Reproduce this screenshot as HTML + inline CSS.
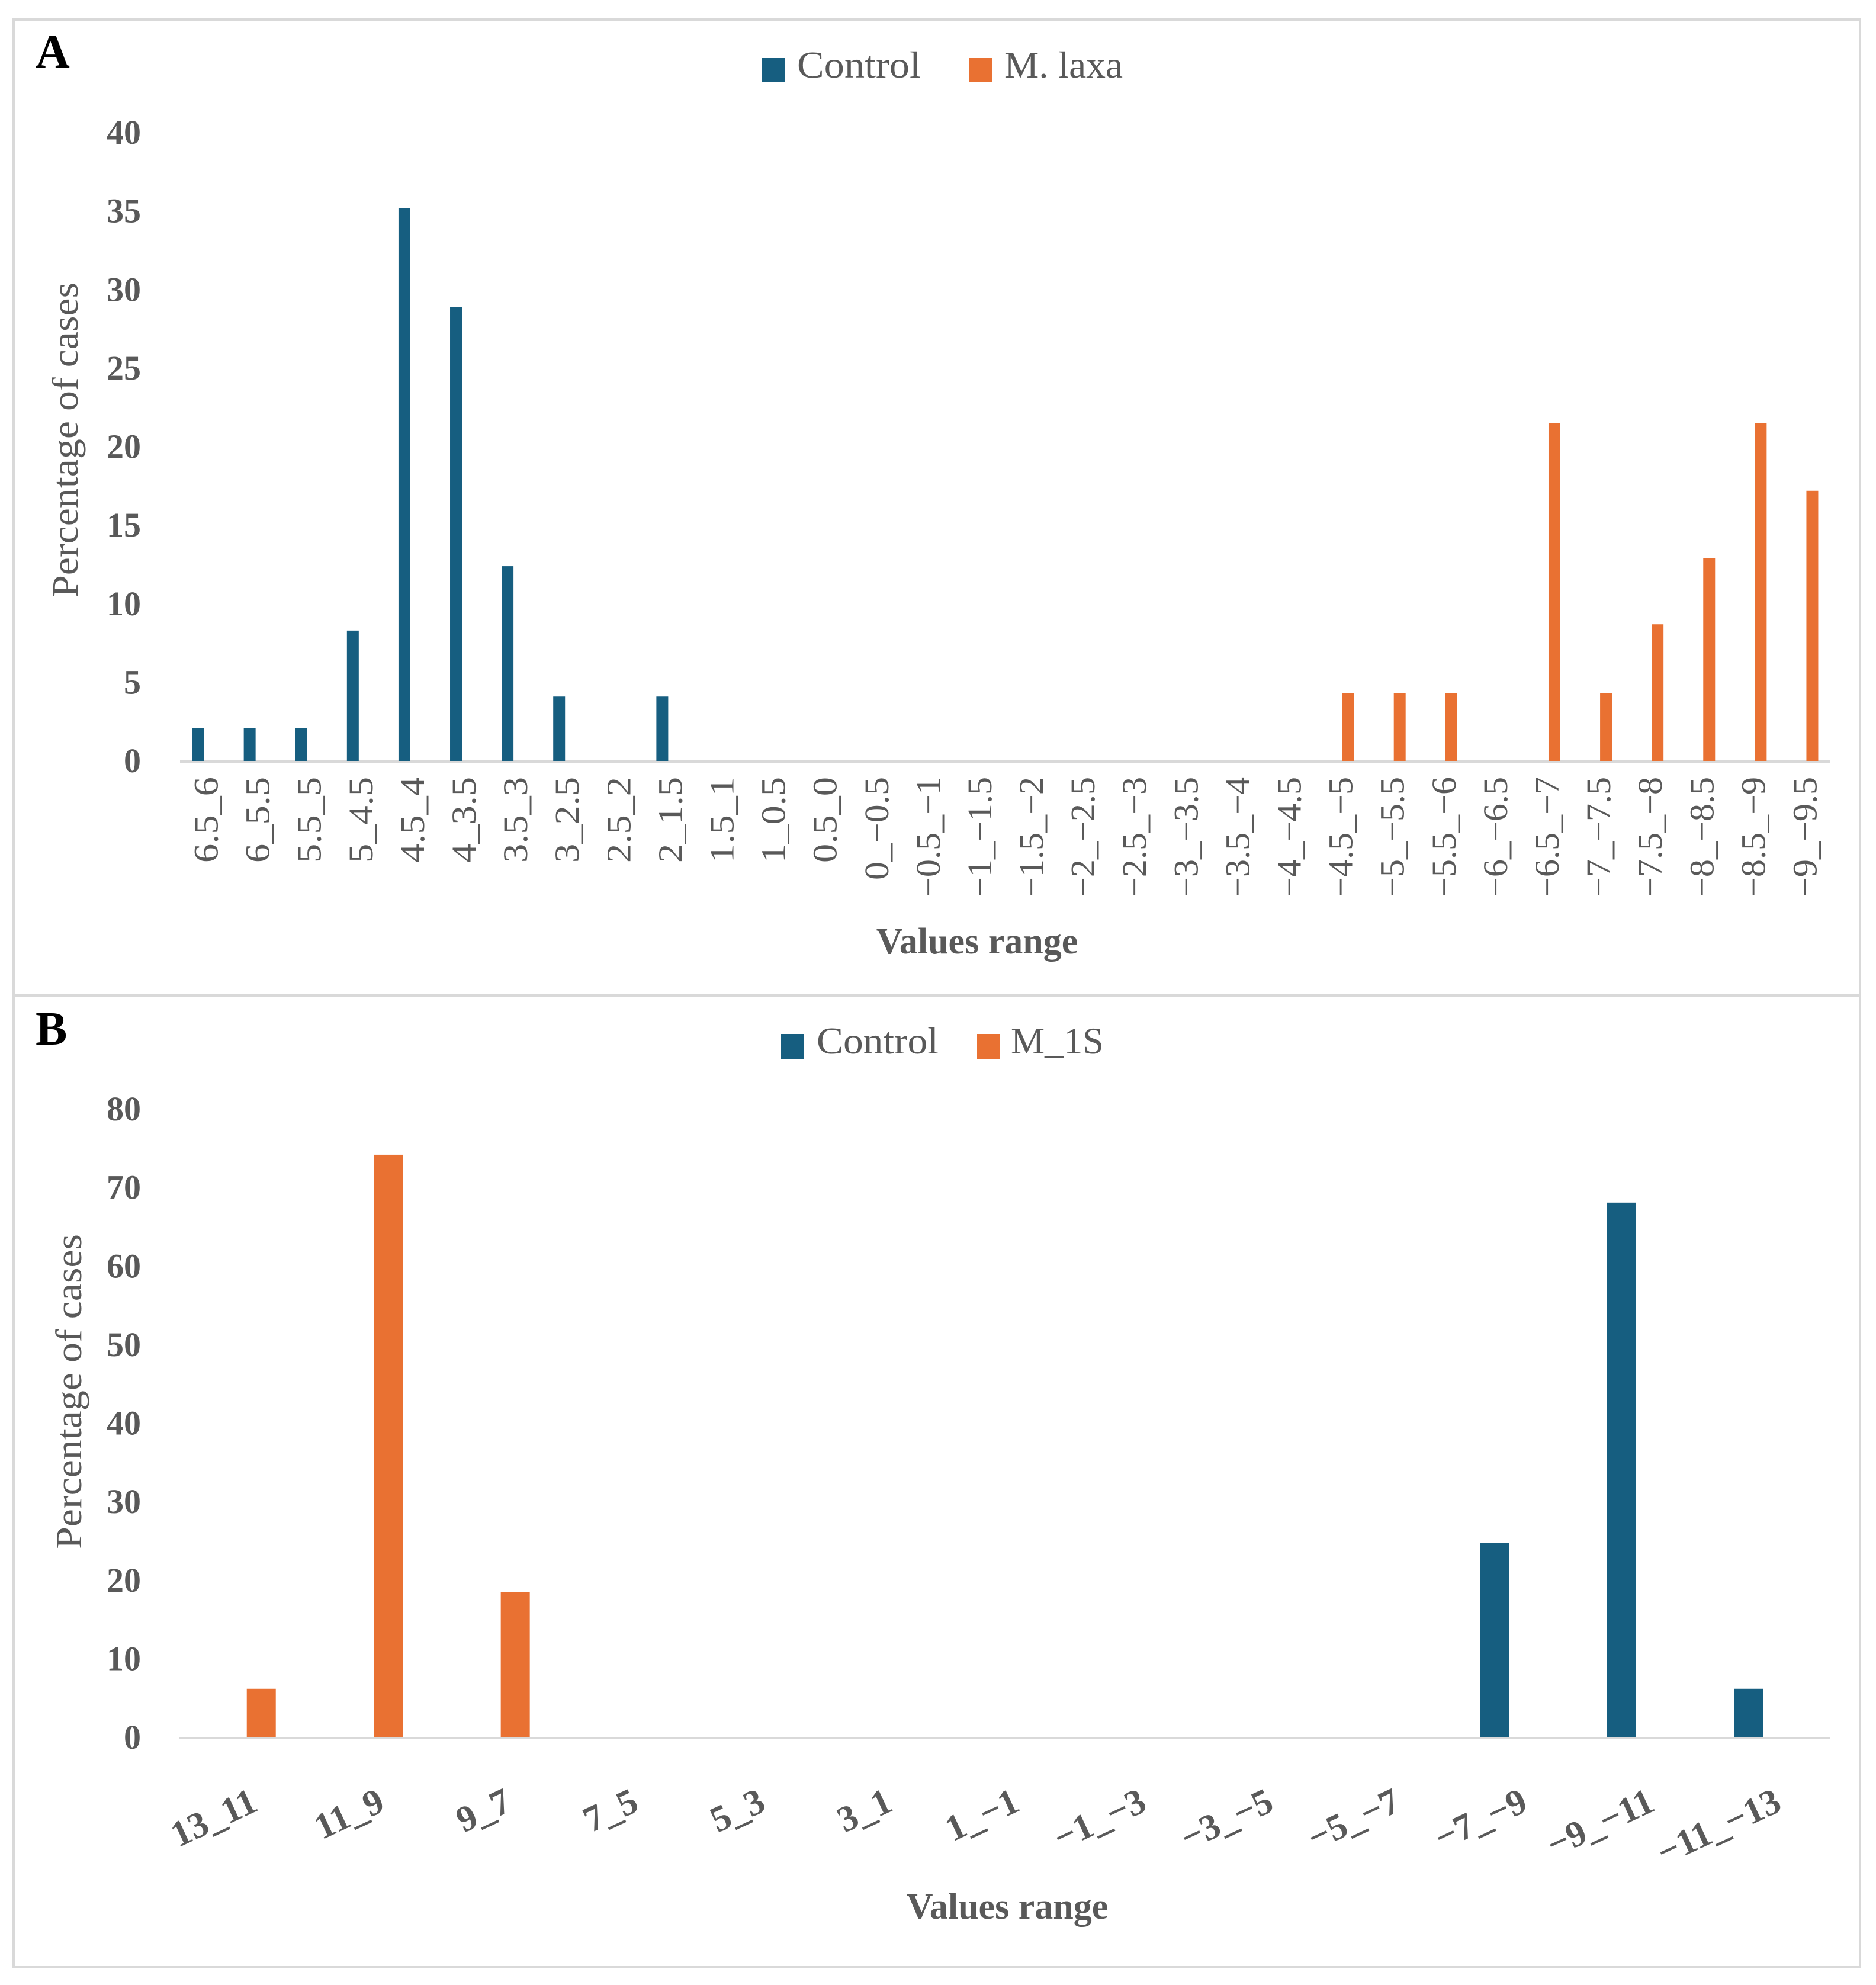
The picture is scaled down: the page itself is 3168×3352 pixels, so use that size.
<!DOCTYPE html>
<html><head><meta charset="utf-8">
<style>
html,body{margin:0;padding:0;background:#fff;}
svg{display:block;}
text{font-family:"Liberation Serif",serif;fill:#595959;}
</style></head>
<body>
<svg id="fig" width="3168" height="3352" viewBox="0 0 3168 3352" xmlns="http://www.w3.org/2000/svg">
<rect x="23" y="33" width="3118" height="1648" fill="none" stroke="#d9d9d9" stroke-width="4"/>
<rect x="23" y="1681" width="3118" height="1641" fill="none" stroke="#d9d9d9" stroke-width="4"/>
<text x="60" y="114" font-size="80" font-weight="bold" style="fill:#000">A</text>
<text x="60" y="1764" font-size="80" font-weight="bold" style="fill:#000">B</text>

<g>
<rect x="1287" y="98" width="39" height="41" fill="#165e80"/>
<text x="1346" y="131" font-size="64" textLength="209" lengthAdjust="spacingAndGlyphs">Control</text>
<rect x="1637" y="98" width="39" height="41" fill="#e97132"/>
<text x="1696" y="131" font-size="64" textLength="200" lengthAdjust="spacingAndGlyphs">M. laxa</text>
</g>
<g>
<rect x="1319" y="1746" width="39" height="43" fill="#165e80"/>
<text x="1379" y="1779" font-size="64" textLength="206" lengthAdjust="spacingAndGlyphs">Control</text>
<rect x="1650" y="1746" width="38" height="43" fill="#e97132"/>
<text x="1707" y="1779" font-size="64" textLength="157" lengthAdjust="spacingAndGlyphs">M_1S</text>
</g>

<text x="1650" y="1610" font-size="62" font-weight="bold" text-anchor="middle">Values range</text>
<text x="1701" y="3240" font-size="62" font-weight="bold" text-anchor="middle">Values range</text>
<text transform="translate(131,743) rotate(-90)" font-size="62" text-anchor="middle" textLength="532" lengthAdjust="spacingAndGlyphs">Percentage of cases</text>
<text transform="translate(137,2350) rotate(-90)" font-size="62" text-anchor="middle" textLength="532" lengthAdjust="spacingAndGlyphs">Percentage of cases</text>
<g id="chartA"></g>
<g id="chartB"></g>
</svg>
<script>
const catsA = ["6.5_6","6_5.5","5.5_5","5_4.5","4.5_4","4_3.5","3.5_3","3_2.5","2.5_2","2_1.5","1.5_1","1_0.5","0.5_0","0_−0.5","−0.5_−1","−1_−1.5","−1.5_−2","−2_−2.5","−2.5_−3","−3_−3.5","−3.5_−4","−4_−4.5","−4.5_−5","−5_−5.5","−5.5_−6","−6_−6.5","−6.5_−7","−7_−7.5","−7.5_−8","−8_−8.5","−8.5_−9","−9_−9.5"];
const controlA = [2.1,2.1,2.1,8.3,35.2,28.9,12.4,4.1,0,4.1,0,0,0,0,0,0,0,0,0,0,0,0,0,0,0,0,0,0,0,0,0,0];
const laxaA = [0,0,0,0,0,0,0,0,0,0,0,0,0,0,0,0,0,0,0,0,0,0,4.3,4.3,4.3,0,21.5,4.3,8.7,12.9,21.5,17.2];
const ticksA = [0,5,10,15,20,25,30,35,40];

const catsB = ["13_11","11_9","9_7","7_5","5_3","3_1","1_−1","−1_−3","−3_−5","−5_−7","−7_−9","−9_−11","−11_−13"];
const controlB = [0,0,0,0,0,0,0,0,0,0,24.8,68.1,6.2];
const m1sB = [6.2,74.2,18.5,0,0,0,0,0,0,0,0,0,0];
const ticksB = [0,10,20,30,40,50,60,70,80];

const NS="http://www.w3.org/2000/svg";
function mk(tag, attrs, parent){const e=document.createElementNS(NS,tag);for(const k in attrs)e.setAttribute(k,attrs[k]);parent.appendChild(e);return e;}

function drawChart(g, cfg){
  const x0=cfg.x0, x1=cfg.x1, base=cfg.base, n=cfg.cats.length, band=(x1-x0)/n;
  const y=v=>base-(v-0)/cfg.max*(base-cfg.top);
  const xc=i=>x0+band*(i+0.5);
  cfg.ticks.forEach(t=>{
    const tx=mk('text',{x:238,y:y(t)+19,'font-size':58,'font-weight':'bold','text-anchor':'end'},g);
    
    
    tx.textContent=t;
  });
  const ax=mk('line',{x1:x0,x2:x1,y1:base+1,y2:base+1,stroke:'#d9d9d9','stroke-width':4},g);
  
  
  [[cfg.s1,'#165e80',-cfg.off,'bar-control'],[cfg.s2,'#e97132',cfg.off,cfg.s2name]].forEach(([arr,col,off,nm])=>{
    arr.forEach((v,i)=>{
      if(v<=0)return;
      const r=mk('rect',{x:xc(i)+off-cfg.bw/2,y:y(v),width:cfg.bw,height:base-y(v),fill:col},g);
      
      
    });
  });
  cfg.cats.forEach((c,i)=>{
    let t;
    if(cfg.rot===-90){
      t=mk('text',{transform:`translate(${xc(i)+20},${1312}) rotate(-90)`,'font-size':58,'text-anchor':'end',textLength:c.length*29,lengthAdjust:'spacingAndGlyphs'},g);
    } else {
      t=mk('text',{transform:`translate(${xc(i)+28},${3056}) rotate(-25)`,'font-size':62,'font-weight':'bold','text-anchor':'end'},g);
    }
    
    
    t.textContent=c;
  });
}
drawChart(document.getElementById('chartA'),{x0:304,x1:3091,base:1285,top:224,max:40,cats:catsA,s1:controlA,s2:laxaA,s2name:'bar-m-laxa',ticks:ticksA,bw:20,off:13,rot:-90});
drawChart(document.getElementById('chartB'),{x0:303,x1:3091,base:2934,top:1873,max:80,cats:catsB,s1:controlB,s2:m1sB,s2name:'bar-m-1s',ticks:ticksB,bw:49,off:31,rot:-25});
</script>
</body></html>
